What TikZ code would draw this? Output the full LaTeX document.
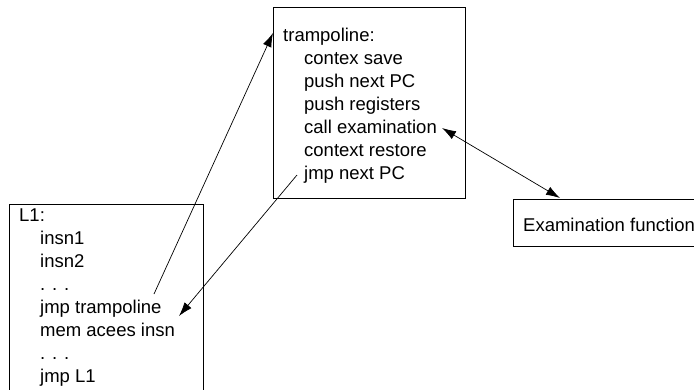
\documentclass[tikz,border=0pt]{standalone}
\usepackage{fontspec}
\setmainfont{Liberation Sans}
\usetikzlibrary{arrows.meta}
\begin{document}
\begin{tikzpicture}[x=1pt,y=-1pt,
  box/.style={draw, line width=0.8pt, inner sep=0pt, anchor=north west},
  txt/.style={anchor=base west, inner sep=0pt, font=\fontsize{18.5}{22}\selectfont},
  tip/.style={line width=0.7pt, -{Latex[length=14pt,width=9pt]}},
  bothtips/.style={line width=0.7pt, {Latex[length=14pt,width=9pt]}-{Latex[length=14pt,width=9pt]}}]
\useasboundingbox (0,0) rectangle (694,389);
\fill[white] (0,0) rectangle (694,389);
\clip (0,0) rectangle (694,389);

% boxes
\node[box, minimum width=192pt, minimum height=191pt] (tramp) at (273,7) {};
\node[box, minimum width=194pt, minimum height=200pt] (prog) at (9,204) {};
\node[box, minimum width=210pt, minimum height=47pt] (exam) at (513,199) {};

% trampoline code
\node[txt] (t0) at (283,41) {trampoline:};
\node[txt] (t1) at (304,64) {contex save};
\node[txt] (t2) at (304,87) {push next PC};
\node[txt] (t3) at (304,110) {push registers};
\node[txt] (t4) at (304,133) {call examination};
\node[txt] (t5) at (304,156) {context restore};
\node[txt] (t6) at (304,179) {jmp next PC};

% instrumented program
\node[txt] (p0) at (19,221) {L1:};
\node[txt] (p1) at (40,244) {insn1};
\node[txt] (p2) at (40,267) {insn2};
\node[txt] (p3) at (40,290) {. . .};
\node[txt] (p4) at (40,313) {jmp trampoline};
\node[txt] (p5) at (40,336) {mem acees insn};
\node[txt] (p6) at (40,359) {. . .};
\node[txt] (p7) at (40,382) {jmp L1};

% examination routine
\node[txt] (e0) at (523,231) {Examination function};

% connector end points
\coordinate (jmpOut) at (154,294);
\coordinate (trampIn) at (273,33);
\coordinate (retOut) at (297,175);
\coordinate (retIn) at (179,316);
\coordinate (callEnd) at (442,128);
\coordinate (examEnd) at (560,198);

\draw[tip] (jmpOut) -- (trampIn);
\draw[tip] (retOut) -- (retIn);
\draw[bothtips] (callEnd) -- (examEnd);
\end{tikzpicture}
\end{document}
